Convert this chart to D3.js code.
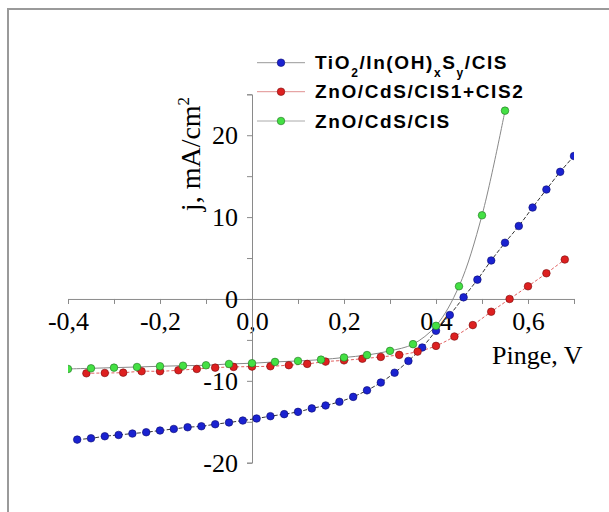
<!DOCTYPE html>
<html>
<head>
<meta charset="utf-8">
<script src="https://cdn.jsdelivr.net/npm/d3@7"></script>
<style>
  body { margin: 0; background: #fff; }
  .tick text { font-family: "Liberation Serif", "Times New Roman", serif; font-size: 26px; fill: #000; }
  .axis path, .axis line { stroke: #8a8a8a; }
</style>
</head>
<body>
<div class="bg"></div>
<script>
// voltage (V) and current density (mA/cm2)
const blueV = [-0.38,-0.35,-0.32,-0.29,-0.26,-0.23,-0.20,-0.17,-0.14,-0.11,-0.08,-0.05,-0.02,0.01,0.04,0.07,0.10,0.13,0.16,0.19,0.22,0.25,0.28,0.31,0.34,0.37,0.40,0.43,0.46,0.49,0.52,0.55,0.58,0.61,0.64,0.67,0.70];
const blueJ = [-17.18,-17.02,-16.77,-16.61,-16.44,-16.28,-16.07,-15.88,-15.67,-15.55,-15.30,-15.09,-14.85,-14.60,-14.32,-14.07,-13.79,-13.37,-13.01,-12.56,-11.96,-11.16,-10.21,-9.01,-7.57,-5.93,-3.89,-1.96,0.20,2.36,4.70,6.87,8.91,11.17,13.37,15.53,17.46];

const redV = [-0.36,-0.32,-0.28,-0.24,-0.20,-0.16,-0.12,-0.08,-0.04,0.00,0.04,0.08,0.12,0.16,0.20,0.24,0.28,0.32,0.36,0.40,0.44,0.48,0.52,0.56,0.60,0.64,0.68];
const redJ = [-9.08,-9.04,-9.00,-8.83,-8.83,-8.71,-8.55,-8.39,-8.30,-8.26,-8.22,-8.09,-7.93,-7.65,-7.50,-7.30,-7.08,-6.83,-6.43,-5.73,-4.59,-3.19,-1.56,0.00,1.55,3.14,4.82];

const greenV = [-0.40,-0.35,-0.30,-0.25,-0.20,-0.15,-0.10,-0.05,0.00,0.05,0.10,0.15,0.20,0.25,0.30,0.35,0.40,0.45,0.50,0.55];
const greenJ = [-8.55,-8.47,-8.39,-8.31,-8.22,-8.15,-8.10,-7.94,-7.85,-7.69,-7.57,-7.41,-7.15,-6.85,-6.34,-5.52,-3.28,1.55,10.22,23.0];

const xTicks = [-0.4,-0.3,-0.2,-0.1,0,0.1,0.2,0.3,0.4,0.5,0.6,0.7];
const xLabels = ["-0,4","","-0,2","","0,0","","0,2","","0,4","","0,6",""];
const yTicks = [-20,-15,-10,-5,0,5,10,15,20,25];
const yLabels = ["-20","","-10","","0","","10","","20",""];

const series = [
  { name: "blue", v: blueV, j: blueJ, fill: "#1a22d0", edge: "#0a0a70", line: "#333", dash: "4,2", legLine: "#999" },
  { name: "red", v: redV, j: redJ, fill: "#dd2020", edge: "#7a0a0a", line: "#e06060", dash: "3,2", legLine: "#e09090" },
  { name: "green", v: greenV, j: greenJ, fill: "#44e044", edge: "#207020", line: "#888", dash: null, legLine: "#aaa" }
];

const W = 609, H = 512;
const svg = d3.select(".bg").append("svg").attr("width", W).attr("height", H);

// frame
svg.append("rect").attr("x", 8).attr("y", 9).attr("width", 700).attr("height", 600)
  .attr("fill", "none").attr("stroke", "#9a9a9a").attr("stroke-width", 2);

const x = d3.scaleLinear().domain([-0.4, 0.7]).range([68, 574]);
const y = d3.scaleLinear().domain([-20, 25]).range([462.7, 94.3]);

svg.append("defs").append("clipPath").attr("id", "plot")
  .append("rect").attr("x", x(-0.4)).attr("y", y(25)).attr("width", x(0.7) - x(-0.4)).attr("height", y(-20) - y(25));

// axes crossing at zero
svg.append("g").attr("class", "axis")
  .attr("transform", "translate(0," + y(0) + ")")
  .call(d3.axisBottom(x).tickValues(xTicks).tickSizeOuter(0).tickSize(5).tickPadding(8)
    .tickFormat((d, i) => xLabels[i]));

svg.append("g").attr("class", "axis")
  .attr("transform", "translate(" + x(0) + ",0)")
  .call(d3.axisLeft(y).tickValues(yTicks).tickSizeOuter(0).tickSize(5).tickPadding(9)
    .tickFormat((d, i) => yLabels[i]));

// axis titles
const yTitle = svg.append("text")
  .attr("transform", "translate(200,154) rotate(-90)")
  .attr("text-anchor", "middle")
  .style("font-family", "Liberation Serif, serif").style("font-size", "28px");
yTitle.append("tspan").text("j, mA/cm");
yTitle.append("tspan").attr("dy", -11).style("font-size", "17px").text("2");

svg.append("text").attr("x", 492).attr("y", 364)
  .style("font-family", "Liberation Serif, serif").style("font-size", "26px")
  .text("Pinge, V");

// curves and markers
const plot = svg.append("g").attr("clip-path", "url(#plot)");
series.forEach(s => {
  const pts = s.v.map((v, i) => [v, s.j[i]]);
  const line = d3.line().x(d => x(d[0])).y(d => y(d[1])).curve(d3.curveCatmullRom);
  plot.append("path").attr("d", line(pts))
    .attr("fill", "none").attr("stroke", s.line).attr("stroke-width", 1)
    .attr("stroke-dasharray", s.dash);
});
series.forEach(s => {
  plot.selectAll(".m-" + s.name).data(s.v.map((v, i) => [v, s.j[i]])).enter()
    .append("circle").attr("class", "m-" + s.name)
    .attr("cx", d => x(d[0])).attr("cy", d => y(d[1])).attr("r", 3.8)
    .attr("fill", s.fill).attr("stroke", s.edge).attr("stroke-width", 0.6);
});

// legend
const legRows = [62.7, 91.7, 121];
const leg = svg.append("g")
  .style("font-family", "Liberation Sans, Arial, sans-serif").style("font-weight", "bold")
  .style("font-size", "19px").style("letter-spacing", "1.6px");
series.forEach((s, i) => {
  leg.append("line").attr("x1", 257).attr("x2", 305).attr("y1", legRows[i]).attr("y2", legRows[i])
    .attr("stroke", s.legLine).attr("stroke-width", 1);
  leg.append("circle").attr("cx", 281).attr("cy", legRows[i]).attr("r", 3.8)
    .attr("fill", s.fill).attr("stroke", s.edge).attr("stroke-width", 0.6);
});
const t0 = leg.append("text").attr("x", 315).attr("y", legRows[0] + 6.5);
t0.append("tspan").text("TiO");
t0.append("tspan").attr("dy", 8).style("font-size", "12px").text("2");
t0.append("tspan").attr("dy", -8).text("/In(OH)");
t0.append("tspan").attr("dy", 8).style("font-size", "12px").text("x");
t0.append("tspan").attr("dy", -8).text("S");
t0.append("tspan").attr("dy", 8).style("font-size", "12px").text("y");
t0.append("tspan").attr("dy", -8).text("/CIS");
leg.append("text").attr("x", 315).attr("y", legRows[1] + 6.5).text("ZnO/CdS/CIS1+CIS2");
leg.append("text").attr("x", 315).attr("y", legRows[2] + 6.5).text("ZnO/CdS/CIS");
</script>
</body>
</html>
